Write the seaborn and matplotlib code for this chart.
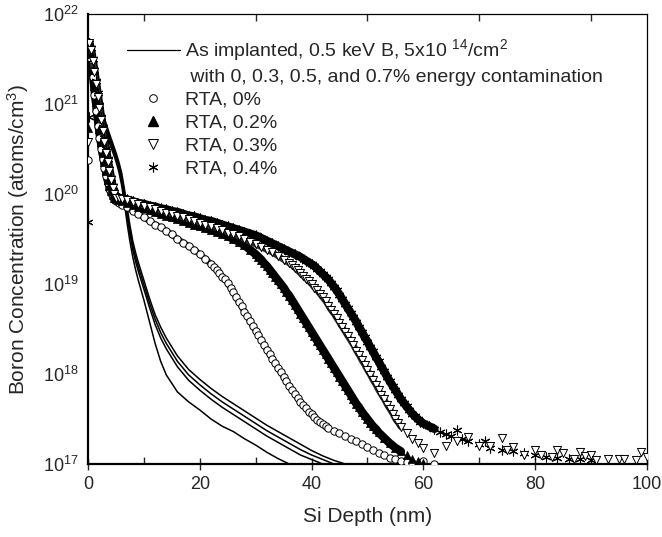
import numpy as np
import matplotlib
matplotlib.use("Agg")
import matplotlib.pyplot as plt
from matplotlib.lines import Line2D
from matplotlib.ticker import MultipleLocator, LogLocator, NullLocator
import seaborn as sns

# depth in nm, values are log10 of boron concentration (atoms/cm3)

# as implanted (0, 0.3, 0.5, 0.7 % energy contamination), shared depth grid
ai_depth = [0, 0.5, 1, 1.5, 2, 2.5, 3, 3.5, 4, 4.5, 5, 5.5, 6, 6.5, 7, 7.5, 8, 8.5, 9,
            10, 11, 12, 13, 14, 16, 18, 20, 22, 24, 26, 28, 30, 32, 34, 36, 38, 40,
            42, 44, 46, 48, 50]
ai_00 = [21.65, 21.55, 21.4, 21.2, 21.0, 20.85, 20.73, 20.63, 20.54, 20.45, 20.36, 20.25,
         20.1, 19.9, 19.67, 19.47, 19.3, 19.16, 19.04,
         18.82, 18.58, 18.34, 18.14, 17.99,
         17.8, 17.69, 17.6, 17.5, 17.42, 17.36, 17.28, 17.21, 17.13, 17.06, 17.0, 16.95,
         16.9, 16.9, 16.9, 16.9, 16.9, 16.9]
ai_03 = [21.65, 21.56, 21.42, 21.23, 21.04, 20.89, 20.77, 20.67, 20.58, 20.49, 20.4, 20.3,
         20.16, 19.97, 19.75, 19.55, 19.38, 19.25, 19.14,
         18.94, 18.74, 18.55, 18.4, 18.28,
         18.08, 17.93, 17.82, 17.72, 17.63, 17.55, 17.47, 17.39, 17.31, 17.24, 17.17, 17.1,
         17.05, 17.0, 16.95, 16.9, 16.9, 16.9]
ai_05 = [21.66, 21.57, 21.44, 21.26, 21.07, 20.92, 20.8, 20.7, 20.61, 20.52, 20.43, 20.33,
         20.2, 20.02, 19.8, 19.6, 19.43, 19.3, 19.19,
         18.99, 18.79, 18.61, 18.46, 18.34,
         18.14, 17.99, 17.88, 17.78, 17.69, 17.61, 17.53, 17.45, 17.37, 17.3, 17.23, 17.16,
         17.1, 17.05, 17.0, 16.95, 16.9, 16.9]
ai_07 = [21.66, 21.58, 21.46, 21.29, 21.1, 20.95, 20.83, 20.73, 20.64, 20.55, 20.46, 20.36,
         20.24, 20.06, 19.85, 19.65, 19.48, 19.35, 19.24,
         19.04, 18.84, 18.66, 18.52, 18.4,
         18.2, 18.05, 17.94, 17.84, 17.75, 17.67, 17.59, 17.51, 17.43, 17.36, 17.29, 17.22,
         17.15, 17.09, 17.04, 17.0, 16.95, 16.9]

# RTA, 0 %
rta0_depth = [0.0, 0.2, 0.5, 0.8, 1.1, 1.4, 1.7, 2.0, 2.3, 2.6, 2.9, 3.2, 3.5, 3.8, 4.1, 4.4,
              4.7, 5.0, 5.5, 6, 7, 8, 9, 10, 11, 12, 13, 14, 15, 16, 17, 18, 19, 20, 21, 22,
              22.5, 23, 23.5, 24, 24.5, 25, 25.5, 26, 26.5, 27, 27.5, 28, 28.5, 29, 29.5,
              30, 30.5, 31, 31.5, 32, 32.5, 33, 33.5, 34, 34.5, 35, 35.5, 36, 36.5, 37,
              37.5, 38, 38.5, 39, 39.5, 40, 40.5, 41, 41.5, 42, 42.5, 43,
              44, 45, 46, 47, 48, 49, 50, 51, 52, 53, 54, 55, 56, 57, 58, 60, 62]
rta0_log = [20.38, 21.66, 21.5, 21.3, 21.1, 20.92, 20.76, 20.62, 20.5, 20.39, 20.29, 20.2,
            20.12, 20.06, 20.01, 19.97, 19.94, 19.92, 19.9, 19.88,
            19.85, 19.81, 19.78, 19.74, 19.7, 19.66, 19.63, 19.59, 19.55, 19.5, 19.46,
            19.42, 19.38, 19.33, 19.28, 19.22,
            19.19, 19.16, 19.12, 19.08, 19.05, 19.01, 18.96, 18.91, 18.85, 18.8, 18.75,
            18.69, 18.64, 18.59, 18.53, 18.48, 18.43, 18.38, 18.32, 18.27, 18.22, 18.17,
            18.12, 18.07, 18.02, 17.97, 17.92, 17.87, 17.82, 17.78, 17.73, 17.69, 17.65,
            17.62, 17.58, 17.55, 17.52, 17.49, 17.47, 17.44, 17.42, 17.4,
            17.37, 17.34, 17.31, 17.28, 17.26, 17.22, 17.19, 17.15, 17.12, 17.1, 17.07,
            17.05, 17.03, 17.02, 17.01, 17.03, 17.0]

# RTA, 0.2 %
rta2_depth = [0.0, 0.2, 0.5, 0.8, 1.1, 1.4, 1.7, 2.0, 2.3, 2.6, 2.9, 3.2, 3.5, 3.8, 4.1, 4.4,
              4.7, 5.0, 5.5, 6, 7, 8, 9, 10, 11, 12, 13, 14, 15, 16, 17, 18, 19, 20, 21,
              22, 23, 24, 25, 26, 27, 28, 29, 30, 30.5, 31, 31.5, 32, 32.5, 33, 33.5, 34,
              34.5, 35, 35.5, 36, 36.5, 37, 37.5, 38, 38.5, 39, 39.5, 40, 40.5, 41, 41.5,
              42, 42.5, 43, 43.5, 44, 44.5, 45, 45.5, 46, 46.5, 47, 47.5, 48, 48.5, 49,
              49.5, 50, 50.5, 51, 51.5, 52, 53, 54, 55, 56, 57, 58, 59, 60]
rta2_log = [20.73, 21.68, 21.55, 21.38, 21.2, 21.03, 20.87, 20.72, 20.58, 20.46, 20.35,
            20.25, 20.16, 20.09, 20.03, 19.99, 19.96, 19.94, 19.93, 19.92,
            19.9, 19.88, 19.86, 19.84, 19.82, 19.8, 19.78, 19.76, 19.74, 19.72, 19.7,
            19.68, 19.66, 19.64, 19.62, 19.6, 19.58, 19.56, 19.53, 19.5, 19.47, 19.43,
            19.38, 19.33,
            19.3, 19.27, 19.23, 19.2, 19.16, 19.12, 19.08, 19.04, 19.0, 18.96, 18.91,
            18.87, 18.82, 18.77, 18.72, 18.67, 18.62, 18.57, 18.52, 18.47, 18.42, 18.37,
            18.32, 18.27, 18.22, 18.17, 18.12, 18.07, 18.02, 17.97, 17.92, 17.87, 17.82,
            17.77, 17.72, 17.67, 17.63, 17.58, 17.54, 17.5, 17.46, 17.42, 17.39, 17.35,
            17.29, 17.23, 17.18, 17.14, 17.1, 17.06, 17.03, 17.01]

# RTA, 0.3 %
rta3_depth = [0.0, 0.2, 0.5, 0.8, 1.1, 1.4, 1.7, 2.0, 2.3, 2.6, 2.9, 3.2, 3.5, 3.8, 4.1, 4.4,
              4.7, 5.0, 5.5, 6, 7, 8, 9, 10, 11, 12, 13, 14, 15, 16, 17, 18, 19, 20, 21,
              22, 23, 24, 25, 26, 27, 28, 29, 30, 31, 32, 33, 34, 35, 36,
              36.5, 37, 37.5, 38, 38.5, 39, 39.5, 40, 40.5, 41, 41.5, 42, 42.5, 43, 43.5,
              44, 44.5, 45, 45.5, 46, 46.5, 47, 47.5, 48, 48.5, 49, 49.5, 50, 50.5, 51,
              51.5, 52, 52.5, 53, 53.5, 54, 54.5, 55, 55.5, 56, 57, 58, 59, 60, 62,
              64, 66, 68, 70, 72, 74, 75, 76, 78, 80, 81, 83, 84, 85, 87, 88, 89, 90, 91,
              93, 95, 96, 98, 99, 100]
rta3_log = [20.58, 21.68, 21.6, 21.48, 21.35, 21.22, 21.08, 20.95, 20.82, 20.7, 20.58,
            20.46, 20.35, 20.25, 20.15, 20.07, 20.0, 19.96, 19.95, 19.94,
            19.93, 19.91, 19.89, 19.87, 19.85, 19.83, 19.81, 19.79, 19.78, 19.76, 19.74,
            19.72, 19.7, 19.68, 19.66, 19.64, 19.62, 19.6, 19.57, 19.55, 19.53, 19.5,
            19.47, 19.44, 19.41, 19.38, 19.35, 19.31, 19.27, 19.23,
            19.21, 19.18, 19.15, 19.12, 19.09, 19.06, 19.03, 19.0, 18.96, 18.93, 18.89,
            18.85, 18.81, 18.76, 18.71, 18.67, 18.62, 18.57, 18.52, 18.47, 18.42, 18.37,
            18.32, 18.26, 18.21, 18.15, 18.1, 18.04, 17.99, 17.93, 17.88, 17.82, 17.77,
            17.72, 17.66, 17.61, 17.56, 17.5, 17.46, 17.41,
            17.34, 17.28, 17.23, 17.18, 17.12,
            17.2, 17.25, 17.3, 17.2, 17.2, 17.29, 17.15, 17.19, 17.1, 17.16, 17.1, 17.08,
            17.16, 17.12, 17.06, 17.13, 17.09, 17.1, 17.04, 17.05, 17.05, 17.06, 17.04,
            17.13, 17.08]

# RTA, 0.4 %
rta4_depth = [0.0, 0.1, 0.2, 0.5, 0.8, 1.1, 1.4, 1.7, 2.0, 2.3, 2.6, 2.9, 3.2, 3.5, 3.8,
              4.1, 4.4, 4.7, 5.0, 5.5, 6, 7, 8, 9, 10, 11, 12, 13, 14, 15, 16, 17, 18, 19,
              20, 21, 22, 23, 24, 25, 26, 27, 28, 29, 30, 31, 32, 33, 34, 35, 36, 37, 38,
              39, 40, 40.5, 41, 41.5, 42, 42.5, 43, 43.5, 44, 44.5, 45, 45.5, 46, 46.5,
              47, 47.5, 48, 48.5, 49, 49.5, 50, 50.5, 51, 51.5, 52, 52.5, 53, 53.5, 54,
              54.5, 55, 55.5, 56, 56.5, 57, 57.5, 58, 58.5, 59, 59.5, 60,
              61, 62, 63, 64, 65, 66, 67, 68, 70, 71, 72, 74, 76, 78, 80, 82, 84, 86, 88, 90]
rta4_log = [19.69, 20.86, 21.68, 21.62, 21.5, 21.38, 21.25, 21.12, 20.99, 20.86, 20.74,
            20.62, 20.5, 20.39, 20.28, 20.18, 20.09, 20.02, 19.97, 19.96, 19.95,
            19.94, 19.92, 19.9, 19.89, 19.87, 19.86, 19.84, 19.83, 19.81, 19.8, 19.78,
            19.76, 19.75, 19.73, 19.71, 19.7, 19.68, 19.66, 19.64, 19.62, 19.6, 19.58,
            19.56, 19.54, 19.51, 19.48, 19.45, 19.42, 19.39, 19.36, 19.33, 19.3, 19.26,
            19.22,
            19.2, 19.17, 19.14, 19.11, 19.08, 19.05, 19.01, 18.97, 18.93, 18.88, 18.83,
            18.78, 18.73, 18.68, 18.63, 18.58, 18.52, 18.47, 18.41, 18.36, 18.3, 18.25,
            18.19, 18.14, 18.08, 18.03, 17.97, 17.92, 17.87, 17.82, 17.77, 17.72, 17.68,
            17.64, 17.6, 17.56, 17.53, 17.5, 17.47, 17.45,
            17.42, 17.39, 17.36, 17.33, 17.31, 17.38, 17.28, 17.25, 17.22, 17.26, 17.18,
            17.16, 17.14, 17.12, 17.1, 17.08, 17.07, 17.06, 17.05, 17.04]

legend_labels = ['As implanted, 0.5 keV B, 5x10 $^{14}$/cm$^{2}$',
                 ' with 0, 0.3, 0.5, and 0.7% energy contamination',
                 'RTA, 0%', 'RTA, 0.2%', 'RTA, 0.3%', 'RTA, 0.4%']


def conc(depth, logc):
    n = min(len(depth), len(logc))
    return np.array(depth[:n]), 10.0 ** np.array(logc[:n])


def rta_series(ax, depth, logc, skip, dense_until, band_color, band_lw, **kw):
    # the SIMS points overlap into a solid band where sampling is dense
    x, y = conc(depth, logc)
    keep = (np.arange(len(x)) >= skip) & (x <= dense_until)
    sns.lineplot(x=x[keep], y=y[keep], ax=ax, color=band_color, lw=band_lw,
                 estimator=None, sort=False, zorder=2.5, solid_capstyle='round')
    sns.scatterplot(x=x, y=y, ax=ax, **kw)


def main():
    sns.set_style('ticks')
    plt.rcParams['font.family'] = ['Liberation Sans', 'DejaVu Sans']
    plt.rcParams['mathtext.fontset'] = 'custom'
    plt.rcParams['mathtext.rm'] = 'Liberation Sans'
    plt.rcParams['mathtext.it'] = 'Liberation Sans:italic'
    plt.rcParams['mathtext.default'] = 'regular'

    fig = plt.figure(figsize=(6.62, 5.37), dpi=100)
    ax = fig.add_axes([0.133, 0.136, 0.844, 0.838])
    ax.set_yscale('log')

    for vals in [ai_00, ai_03, ai_05, ai_07]:
        x, y = conc(ai_depth, vals)
        sns.lineplot(x=x, y=y, ax=ax, color='black', lw=1.1, estimator=None, sort=False)

    rta_series(ax, rta0_depth, rta0_log, 1, 40, '#2e2e2e', 4.5,
               marker='o', s=28, color='white', edgecolor='black', linewidth=0.7, zorder=3)
    rta_series(ax, rta2_depth, rta2_log, 1, 56, 'black', 6.0,
               marker='^', s=34, color='black', edgecolor='black', linewidth=0.5, zorder=3)
    rta_series(ax, rta4_depth, rta4_log, 2, 62, 'black', 6.0,
               marker=(6, 2, 0), s=42, color='black', linewidth=0.8, zorder=3)
    rta_series(ax, rta3_depth, rta3_log, 1, 56, '#2e2e2e', 4.5,
               marker='v', s=34, color='white', edgecolor='black', linewidth=0.7, zorder=4)

    handles = [Line2D([], [], color='black', lw=0.9),
               Line2D([], [], linestyle='none'),
               Line2D([], [], ls='none', marker='o', ms=5.5, mfc='white', mec='black', mew=0.7),
               Line2D([], [], ls='none', marker='^', ms=6.5, mfc='black', mec='black'),
               Line2D([], [], ls='none', marker='v', ms=6.5, mfc='white', mec='black', mew=0.7),
               Line2D([], [], ls='none', marker=(6, 2, 0), ms=7, color='black', mew=0.8)]
    ax.legend(handles, legend_labels, loc='upper left', bbox_to_anchor=(0.07, 0.948),
              frameon=False, fontsize=14, handlelength=2.7, handletextpad=0.25,
              labelspacing=0.27, borderaxespad=0, borderpad=0)

    ax.set_xlim(0, 100)
    ax.set_ylim(1e17, 1e22)
    ax.xaxis.set_major_locator(MultipleLocator(20))
    ax.xaxis.set_minor_locator(MultipleLocator(10))
    ax.yaxis.set_major_locator(LogLocator(base=10, numticks=10))
    ax.yaxis.set_minor_locator(NullLocator())
    ax.tick_params(axis='x', which='major', direction='inout', length=9, width=1,
                   bottom=True, top=False, labelsize=13, pad=4)
    ax.tick_params(axis='x', which='minor', direction='in', length=5, width=1,
                   bottom=True, top=True)
    ax.tick_params(axis='y', which='major', length=0, labelsize=13, pad=7)

    ax.set_xlabel('Si Depth (nm)', fontsize=15, labelpad=10)
    ax.set_ylabel('Boron Concentration (atoms/cm$^{3}$)', fontsize=15, labelpad=8)

    for side in ['left', 'bottom']:
        ax.spines[side].set_linewidth(1.6)
    for side in ['top', 'right']:
        ax.spines[side].set_linewidth(0.9)
        ax.spines[side].set_visible(True)
    for side in ax.spines:
        ax.spines[side].set_color('black')

    fig.savefig('out.png', dpi=100)


if __name__ == '__main__':
    main()
